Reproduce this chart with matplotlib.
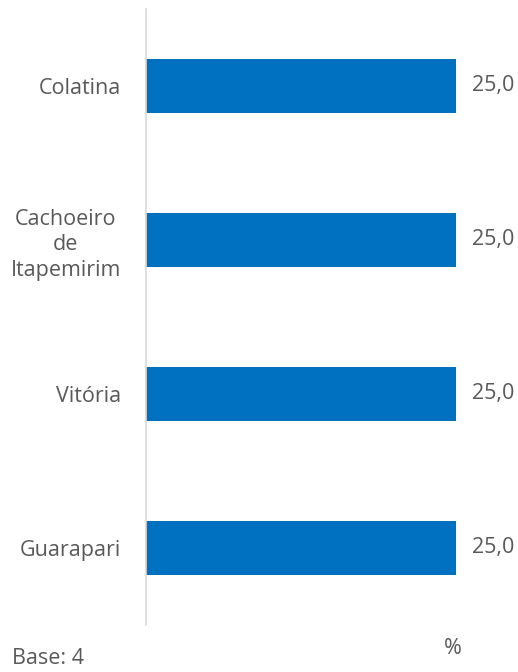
import matplotlib
matplotlib.use("Agg")
import matplotlib.pyplot as plt

categories = ["Colatina", "Cachoeiro\nde\nItapemirim", "Vitória", "Guarapari"]
values = [25.0, 25.0, 25.0, 25.0]

plt.rcParams['font.family'] = ['Open Sans', 'DejaVu Sans']
text_color = "#595959"
fs = 15.5

fig = plt.figure(figsize=(5.18, 6.72), dpi=100)
W, H = 518, 672
ax = fig.add_axes([146 / W, 1 - 625 / H, (456 - 146) / W, (625 - 9) / H])

y = list(range(len(categories)))
ax.barh(y, values, height=0.35, color="#0070C0")
ax.set_ylim(len(categories) - 0.5, -0.5)
ax.set_xlim(0, 25)

for yi, v in zip(y, values):
    ax.text(v + 1.3, yi, f"{v:.1f}".replace(".", ","), va="center", ha="left",
            fontsize=fs, color=text_color, clip_on=False)

ax.set_yticks(y)
labels = ax.set_yticklabels(categories, fontsize=fs, color=text_color, linespacing=1.3,
                            ha="right")
for lb in labels:
    lb.set_multialignment("center")
ax.tick_params(axis="y", length=0, pad=18)
ax.set_xticks([])
for s in ["top", "right", "bottom"]:
    ax.spines[s].set_visible(False)
ax.spines["left"].set_color("#d9d9d9")
ax.spines["left"].set_linewidth(1.2)

fig.text(453 / W, 1 - 648 / H, "%", ha="center", va="center", fontsize=fs, color=text_color)
fig.text(12 / W, 1 - 658 / H, "Base: 4", ha="left", va="center", fontsize=fs, color=text_color)

fig.savefig("out.png", dpi=100)
